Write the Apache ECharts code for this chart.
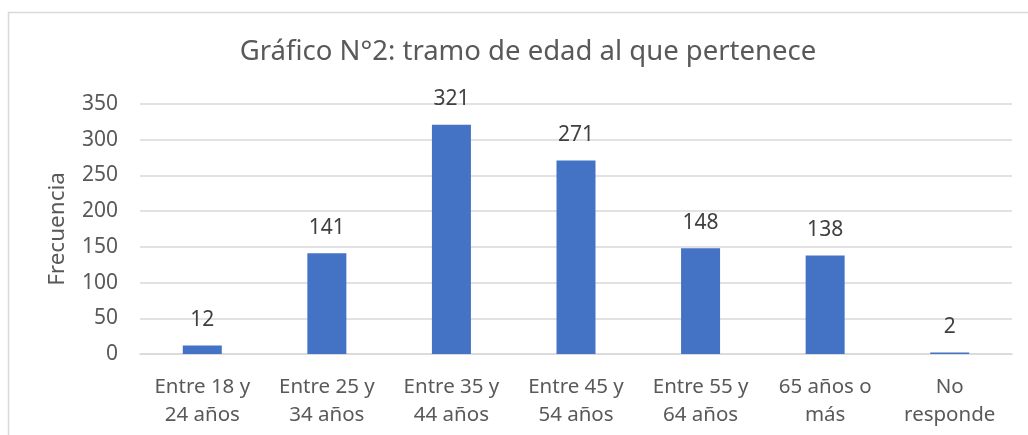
<!DOCTYPE html>
<html>
<head>
<meta charset="utf-8">
<script src="https://cdn.jsdelivr.net/npm/echarts@6/dist/echarts.min.js"></script>
<style>
    html, body { margin: 0; padding: 0; background: #ffffff; }
    #chart { width: 1028px; height: 435px; }
</style>
</head>
<body>
<div id="chart"></div>
<script>
var categories = ["Entre 18 y\n24 años", "Entre 25 y\n34 años", "Entre 35 y\n44 años",
    "Entre 45 y\n54 años", "Entre 55 y\n64 años", "65 años o\nmás", "No\nresponde"];
var frecuencia = [12, 141, 321, 271, 148, 138, 2];
var yTicks = [0, 50, 100, 150, 200, 250, 300, 350];

var textColor = "#595959";
var gridColor = "#d9d9d9";
var barColor = "#4472c4";
var fontName = "Noto Sans";

var chart = echarts.init(document.getElementById("chart"));

var option = {
    animation: false,
    title: {
        text: "Gráfico N°2: tramo de edad al que pertenece",
        left: 523,
        top: 33,
        textAlign: "center",
        textStyle: {
            color: textColor,
            fontSize: 27.5,
            fontWeight: "normal",
            fontFamily: fontName
        }
    },
    // chart frame (top + left edges only, as in the original crop)
    graphic: [
        {
            type: "polyline",
            silent: true,
            shape: { points: [[8.5, 440], [8.5, 12.5], [1030, 12.5]] },
            style: { stroke: gridColor, lineWidth: 1.5, fill: null }
        }
    ],
    grid: {
        left: 140,
        right: 16,
        top: 104,
        height: 250,
        containLabel: false
    },
    xAxis: {
        type: "category",
        data: categories,
        axisLine: { lineStyle: { color: gridColor, width: 1.5 } },
        axisTick: { show: false },
        axisLabel: {
            color: textColor,
            fontSize: 20.5,
            fontFamily: fontName,
            lineHeight: 28,
            margin: 19,
            interval: 0
        }
    },
    yAxis: {
        type: "value",
        min: yTicks[0],
        max: yTicks[yTicks.length - 1],
        interval: 50,
        name: "Frecuencia",
        nameLocation: "middle",
        nameGap: 71,
        nameTextStyle: {
            color: textColor,
            fontSize: 22.5,
            fontFamily: fontName
        },
        axisLine: { show: false },
        axisTick: { show: false },
        splitLine: { lineStyle: { color: gridColor, width: 1.5 } },
        axisLabel: {
            color: textColor,
            fontSize: 21,
            fontFamily: fontName,
            margin: 22
        }
    },
    series: [
        {
            name: "Frecuencia",
            type: "bar",
            data: frecuencia,
            barWidth: 39,
            itemStyle: { color: barColor },
            label: {
                show: true,
                position: "top",
                distance: 15,
                color: "#404040",
                fontSize: 21,
                fontFamily: fontName
            }
        }
    ]
};

chart.setOption(option, true);
</script>
</body>
</html>
